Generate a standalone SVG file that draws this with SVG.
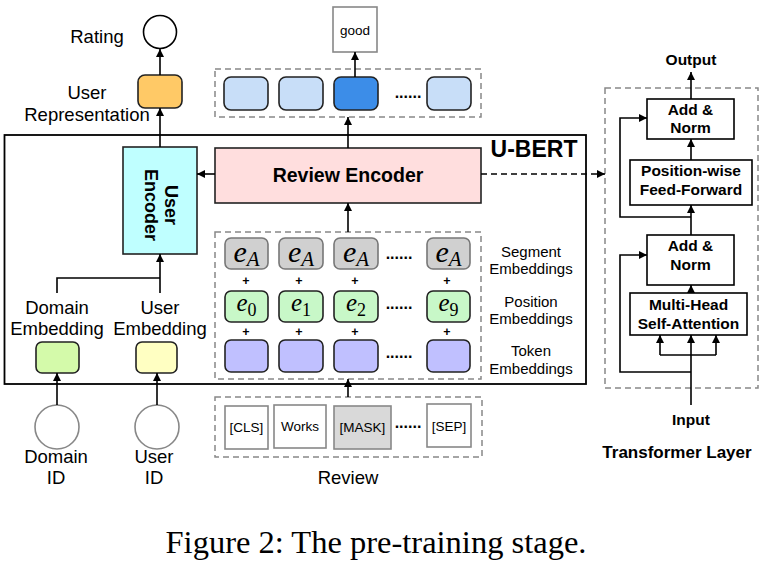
<svg xmlns="http://www.w3.org/2000/svg" width="761" height="567" viewBox="0 0 761 567">
<defs>
<marker id="ah" viewBox="0 0 10 10" refX="10" refY="5" markerWidth="8" markerHeight="8" markerUnits="userSpaceOnUse" orient="auto">
<path d="M0,0 L10,5 L0,10 Z" fill="#000"/>
</marker>
</defs>
<style>
.lbl{font-family:"Liberation Sans",Arial,sans-serif;font-size:18.5px;fill:#000;text-anchor:middle}
.sm{font-family:"Liberation Sans",Arial,sans-serif;font-size:15px;fill:#000;text-anchor:middle}
.tok{font-family:"Liberation Sans",Arial,sans-serif;font-size:13.5px;fill:#000;text-anchor:middle}
.tb{font-family:"Liberation Sans",Arial,sans-serif;font-size:15.5px;font-weight:bold;fill:#000;text-anchor:middle}
.big{font-family:"Liberation Sans",Arial,sans-serif;font-weight:bold;fill:#000;text-anchor:middle}
.math{font-family:"Liberation Serif","Times New Roman",serif;font-style:italic;fill:#000;text-anchor:middle}
.ln{fill:none;stroke:#000;stroke-width:1.6}
.dash{fill:none;stroke:#888;stroke-width:1.5;stroke-dasharray:6,4}
.rb{stroke:#222;stroke-width:1.6}
.gb{fill:#fff;stroke:#888;stroke-width:1.6}
.box{fill:#fff;stroke:#000;stroke-width:1.6}
.plus{font-family:"Liberation Sans",Arial,sans-serif;font-size:12.5px;font-weight:bold;fill:#000;text-anchor:middle}
.dots{font-family:"Liberation Sans",Arial,sans-serif;font-size:16px;font-weight:bold;fill:#000;text-anchor:middle}
</style>
<rect width="761" height="567" fill="#fff"/>

<g id="ubert">
<rect x="4.5" y="135" width="581.5" height="249" fill="none" stroke="#000" stroke-width="1.8"/>
<text class="big" x="534" y="157" font-size="23">U-BERT</text>
</g>

<g id="rating">
<circle cx="160" cy="32" r="16.5" fill="#fff" stroke="#000" stroke-width="1.6"/>
<text class="lbl" x="97" y="43">Rating</text>
</g>

<g id="user-representation">
<rect class="rb" x="138" y="75" width="44" height="33" rx="7" fill="#FFC966"/>
<text class="lbl" x="87" y="99">User</text>
<text class="lbl" x="87" y="121">Representation</text>
</g>

<g id="good">
<rect class="gb" x="333" y="7" width="44" height="45"/>
<text class="tok" x="355" y="35">good</text>
</g>

<g id="output-row">
<rect class="dash" x="215" y="69" width="266" height="48"/>
<rect class="rb" x="224" y="77" width="44" height="33" rx="7" fill="#C8DEF8"/>
<rect class="rb" x="279" y="77" width="44" height="33" rx="7" fill="#C8DEF8"/>
<rect class="rb" x="334" y="77" width="44" height="33" rx="7" fill="#3C8DE8"/>
<text class="dots" x="408" y="98">......</text>
<rect class="rb" x="427" y="77" width="44" height="33" rx="7" fill="#C8DEF8"/>
</g>

<g id="review-encoder">
<rect x="215" y="148" width="266" height="55" fill="#FFDEDE" stroke="#222" stroke-width="1.6"/>
<text class="big" x="348" y="182" font-size="19.5">Review Encoder</text>
</g>

<g id="user-encoder">
<rect x="123" y="147" width="74" height="107" fill="#BFFFFF" stroke="#222" stroke-width="1.6"/>
<text class="big" font-size="18" transform="translate(160,205) rotate(90)" x="0" y="-5">User</text>
<text class="big" font-size="18" transform="translate(160,205) rotate(90)" x="0" y="15">Encoder</text>
</g>

<g id="domain-embedding">
<rect class="rb" x="36" y="342" width="43" height="31" rx="6" fill="#D4FAAA"/>
<text class="lbl" x="57" y="314">Domain</text>
<text class="lbl" x="57" y="335">Embedding</text>
</g>

<g id="user-embedding">
<rect class="rb" x="136" y="342" width="41" height="31" rx="6" fill="#FFFFC2"/>
<text class="lbl" x="160" y="314">User</text>
<text class="lbl" x="160" y="335">Embedding</text>
</g>

<g id="domain-id">
<circle cx="57" cy="427" r="22" fill="#fff" stroke="#888" stroke-width="1.6"/>
<text class="lbl" x="56" y="463">Domain</text>
<text class="lbl" x="56" y="484">ID</text>
</g>

<g id="user-id">
<circle cx="157" cy="427" r="22" fill="#fff" stroke="#888" stroke-width="1.6"/>
<text class="lbl" x="154" y="463">User</text>
<text class="lbl" x="154" y="484">ID</text>
</g>

<g id="embeddings">
<rect class="dash" x="215" y="232" width="266" height="147"/>
<rect x="225" y="238" width="43" height="31" rx="6" fill="#D0D0D0" stroke="#777" stroke-width="1.6"/>
<rect x="279" y="238" width="44" height="31" rx="6" fill="#D0D0D0" stroke="#777" stroke-width="1.6"/>
<rect x="334" y="238" width="44" height="31" rx="6" fill="#D0D0D0" stroke="#777" stroke-width="1.6"/>
<rect x="427" y="238" width="43" height="31" rx="6" fill="#D0D0D0" stroke="#777" stroke-width="1.6"/>
<text class="math" x="246.5" y="262" font-size="30">e<tspan font-size="21" dy="4">A</tspan></text>
<text class="math" x="301" y="262" font-size="30">e<tspan font-size="21" dy="4">A</tspan></text>
<text class="math" x="356" y="262" font-size="30">e<tspan font-size="21" dy="4">A</tspan></text>
<text class="math" x="448.5" y="262" font-size="30">e<tspan font-size="21" dy="4">A</tspan></text>
<text class="dots" x="399" y="259">......</text>
<text class="plus" x="246" y="285">+</text>
<text class="plus" x="299" y="285">+</text>
<text class="plus" x="355" y="285">+</text>
<text class="plus" x="447" y="285">+</text>
<rect x="225" y="291" width="43" height="31" rx="6" fill="#C8F8C8" stroke="#222" stroke-width="1.6"/>
<rect x="279" y="291" width="44" height="31" rx="6" fill="#C8F8C8" stroke="#222" stroke-width="1.6"/>
<rect x="334" y="291" width="44" height="31" rx="6" fill="#C8F8C8" stroke="#222" stroke-width="1.6"/>
<rect x="427" y="291" width="43" height="31" rx="6" fill="#C8F8C8" stroke="#222" stroke-width="1.6"/>
<text class="math" x="246.5" y="311" font-size="25">e<tspan font-size="18" font-style="normal" dy="5">0</tspan></text>
<text class="math" x="301" y="311" font-size="25">e<tspan font-size="18" font-style="normal" dy="5">1</tspan></text>
<text class="math" x="356" y="311" font-size="25">e<tspan font-size="18" font-style="normal" dy="5">2</tspan></text>
<text class="math" x="448.5" y="311" font-size="25">e<tspan font-size="18" font-style="normal" dy="5">9</tspan></text>
<text class="dots" x="399" y="309">......</text>
<text class="plus" x="246" y="336">+</text>
<text class="plus" x="299" y="336">+</text>
<text class="plus" x="355" y="336">+</text>
<text class="plus" x="447" y="336">+</text>
<rect x="225" y="340" width="43" height="32" rx="6" fill="#C0C0FF" stroke="#222" stroke-width="1.6"/>
<rect x="279" y="340" width="44" height="32" rx="6" fill="#C0C0FF" stroke="#222" stroke-width="1.6"/>
<rect x="334" y="340" width="44" height="32" rx="6" fill="#C0C0FF" stroke="#222" stroke-width="1.6"/>
<rect x="427" y="340" width="43" height="32" rx="6" fill="#C0C0FF" stroke="#222" stroke-width="1.6"/>
<text class="dots" x="399" y="358">......</text>
<text class="sm" x="531" y="257">Segment</text>
<text class="sm" x="531" y="274">Embeddings</text>
<text class="sm" x="531" y="307">Position</text>
<text class="sm" x="531" y="324">Embeddings</text>
<text class="sm" x="531" y="356">Token</text>
<text class="sm" x="531" y="374">Embeddings</text>
</g>

<g id="review">
<rect class="dash" x="215" y="397" width="267" height="60"/>
<rect class="gb" x="225" y="406" width="43" height="43"/>
<text class="tok" x="246.5" y="432">[CLS]</text>
<rect class="gb" x="274" y="405" width="52" height="43"/>
<text class="tok" x="300" y="431">Works</text>
<rect x="334" y="406" width="57" height="43" fill="#D9D9D9" stroke="#888" stroke-width="1.6"/>
<text class="tok" x="362.5" y="432">[MASK]</text>
<text class="dots" x="408" y="428">......</text>
<rect class="gb" x="427" y="404" width="44" height="43"/>
<text class="tok" x="449" y="431">[SEP]</text>
<text class="lbl" x="348" y="484">Review</text>
</g>

<g id="transformer-layer">
<rect class="dash" x="605" y="88" width="153" height="300"/>
<text class="tb" x="691" y="65">Output</text>
<rect class="box" x="647" y="99" width="87" height="40"/>
<text class="tb" x="690.5" y="115">Add &amp;</text>
<text class="tb" x="690.5" y="133">Norm</text>
<rect class="box" x="630" y="160" width="122" height="45"/>
<text class="tb" x="691" y="176">Position-wise</text>
<text class="tb" x="691" y="195">Feed-Forward</text>
<rect class="box" x="647" y="235" width="87" height="50"/>
<text class="tb" x="690.5" y="251">Add &amp;</text>
<text class="tb" x="690.5" y="270">Norm</text>
<rect class="box" x="630" y="293" width="117" height="42"/>
<text class="tb" x="688.5" y="310">Multi-Head</text>
<text class="tb" x="688.5" y="329">Self-Attention</text>
<text class="tb" x="691" y="425">Input</text>
<text class="big" x="677" y="458" font-size="17">Transformer Layer</text>
</g>

<g id="connectors">
<path class="ln" d="M160,75 V49" marker-end="url(#ah)"/>
<path class="ln" d="M160,147 V108" marker-end="url(#ah)"/>
<path class="ln" d="M215,174 H197" marker-end="url(#ah)"/>
<path class="ln" d="M481,174 H605" stroke-dasharray="6,4" marker-end="url(#ah)"/>
<path class="ln" d="M348,148 V117" marker-end="url(#ah)"/>
<path class="ln" d="M355,77 V52" marker-end="url(#ah)"/>
<path class="ln" d="M348,232 V203" marker-end="url(#ah)"/>
<path class="ln" d="M348,397 V379" marker-end="url(#ah)"/>
<path class="ln" d="M57,293 V278 H160"/>
<path class="ln" d="M160,293 V254" marker-end="url(#ah)"/>
<path class="ln" d="M57,405 V373" marker-end="url(#ah)"/>
<path class="ln" d="M157,405 V373" marker-end="url(#ah)"/>
<path class="ln" d="M691,99 V72" marker-end="url(#ah)"/>
<path class="ln" d="M691,160 V139" marker-end="url(#ah)"/>
<path class="ln" d="M691,235 V205" marker-end="url(#ah)"/>
<path class="ln" d="M691,217 H620 V118 H647" marker-end="url(#ah)"/>
<path class="ln" d="M691,293 V285" marker-end="url(#ah)"/>
<path class="ln" d="M691,372 H620 V255 H647" marker-end="url(#ah)"/>
<path class="ln" d="M691,405 V335" marker-end="url(#ah)"/>
<path class="ln" d="M660,355 H716"/>
<path class="ln" d="M660,355 V335" marker-end="url(#ah)"/>
<path class="ln" d="M716,355 V335" marker-end="url(#ah)"/>
</g>

<text x="376" y="553" font-family="'Liberation Serif','Times New Roman',serif" font-size="32.5" text-anchor="middle" fill="#000">Figure 2: The pre-training stage.</text>
</svg>
